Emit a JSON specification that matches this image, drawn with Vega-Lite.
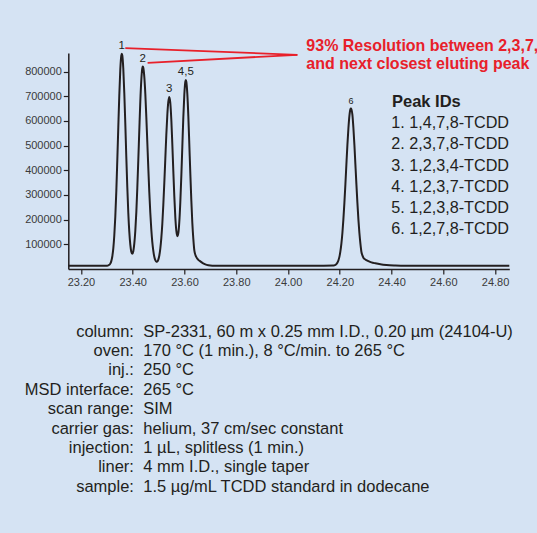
{
  "$schema": "https://vega.github.io/schema/vega-lite/v6.json",
  "background": "#d5e3f3",
  "padding": {"left": 24.3, "top": 37, "right": 5, "bottom": 33},
  "spacing": 35,
  "config": {
    "view": {"stroke": null},
    "font": "Liberation Sans",
    "axis": {
      "domainColor": "#231f20", "domainWidth": 1.5,
      "tickColor": "#231f20", "tickWidth": 1.2, "tickSize": 5,
      "labelFont": "Liberation Sans", "labelFontSize": 11, "labelColor": "#3a3a3a",
      "grid": false, "labelFlush": false, "labelOverlap": false
    }
  },
  "vconcat": [
    {
      "width": 441,
      "height": 216,
      "layer": [
        {
          "data": {"values": [
            {"t": 23.151, "v": 13000}, {"t": 23.2939, "v": 13000}, {"t": 23.3017, "v": 13200},
            {"t": 23.3055, "v": 14500}, {"t": 23.3094, "v": 16900}, {"t": 23.3133, "v": 21800},
            {"t": 23.3171, "v": 31900}, {"t": 23.321, "v": 50700}, {"t": 23.3249, "v": 83400},
            {"t": 23.3287, "v": 135500}, {"t": 23.3326, "v": 211900}, {"t": 23.3365, "v": 314500},
            {"t": 23.3403, "v": 439000}, {"t": 23.3442, "v": 574800}, {"t": 23.3481, "v": 704500},
            {"t": 23.3519, "v": 807600}, {"t": 23.3558, "v": 864300}, {"t": 23.3577, "v": 872000},
            {"t": 23.3597, "v": 865100}, {"t": 23.3635, "v": 811000}, {"t": 23.3674, "v": 712200},
            {"t": 23.3713, "v": 587700}, {"t": 23.3751, "v": 454700}, {"t": 23.379, "v": 331200},
            {"t": 23.3828, "v": 228000}, {"t": 23.3867, "v": 150600}, {"t": 23.3906, "v": 99000},
            {"t": 23.3944, "v": 70100}, {"t": 23.3983, "v": 61600}, {"t": 23.4022, "v": 72100},
            {"t": 23.406, "v": 102500}, {"t": 23.4099, "v": 153900}, {"t": 23.4138, "v": 229400},
            {"t": 23.4176, "v": 327300}, {"t": 23.4215, "v": 441600}, {"t": 23.4254, "v": 563400},
            {"t": 23.4292, "v": 677200}, {"t": 23.4331, "v": 765100}, {"t": 23.437, "v": 813500},
            {"t": 23.4389, "v": 820000}, {"t": 23.4408, "v": 815200}, {"t": 23.4447, "v": 778000},
            {"t": 23.4486, "v": 709400}, {"t": 23.4524, "v": 617400}, {"t": 23.4563, "v": 513300},
            {"t": 23.4602, "v": 407600}, {"t": 23.464, "v": 310800}, {"t": 23.4679, "v": 226900},
            {"t": 23.4718, "v": 159100}, {"t": 23.4756, "v": 108800}, {"t": 23.4795, "v": 73100},
            {"t": 23.4833, "v": 49600}, {"t": 23.4872, "v": 35800}, {"t": 23.4911, "v": 29600},
            {"t": 23.4949, "v": 30200}, {"t": 23.4988, "v": 37900}, {"t": 23.5027, "v": 54500},
            {"t": 23.5065, "v": 82500}, {"t": 23.5104, "v": 124800}, {"t": 23.5143, "v": 183300},
            {"t": 23.5181, "v": 259200}, {"t": 23.522, "v": 349500}, {"t": 23.5259, "v": 447300},
            {"t": 23.5297, "v": 543100}, {"t": 23.5336, "v": 623800}, {"t": 23.5375, "v": 677800},
            {"t": 23.5413, "v": 697000}, {"t": 23.5452, "v": 672500}, {"t": 23.5491, "v": 604300},
            {"t": 23.5529, "v": 506500}, {"t": 23.5568, "v": 396500}, {"t": 23.5607, "v": 293300},
            {"t": 23.5645, "v": 209700}, {"t": 23.5684, "v": 155100}, {"t": 23.5723, "v": 132800},
            {"t": 23.5761, "v": 145000}, {"t": 23.58, "v": 191700}, {"t": 23.5838, "v": 270400},
            {"t": 23.5877, "v": 375800}, {"t": 23.5916, "v": 495600}, {"t": 23.5954, "v": 612900},
            {"t": 23.5993, "v": 706500}, {"t": 23.6032, "v": 759200}, {"t": 23.6051, "v": 766000},
            {"t": 23.607, "v": 759200}, {"t": 23.6109, "v": 709500}, {"t": 23.6148, "v": 619200},
            {"t": 23.6186, "v": 505500}, {"t": 23.6225, "v": 386500}, {"t": 23.6264, "v": 277300},
            {"t": 23.6302, "v": 187400}, {"t": 23.6341, "v": 122000}, {"t": 23.638, "v": 75000},
            {"t": 23.6418, "v": 58000}, {"t": 23.6457, "v": 48000}, {"t": 23.6496, "v": 42000},
            {"t": 23.6534, "v": 37000}, {"t": 23.6612, "v": 31000}, {"t": 23.6689, "v": 25000},
            {"t": 23.6805, "v": 19000}, {"t": 23.6921, "v": 15500}, {"t": 23.7075, "v": 13500},
            {"t": 23.7307, "v": 13000}, {"t": 24.1, "v": 13000}, {"t": 24.1753, "v": 13800},
            {"t": 24.1791, "v": 14700}, {"t": 24.183, "v": 16400}, {"t": 24.1869, "v": 19600},
            {"t": 24.1907, "v": 25200}, {"t": 24.1946, "v": 34500}, {"t": 24.1985, "v": 49100},
            {"t": 24.2023, "v": 71200}, {"t": 24.2062, "v": 102800}, {"t": 24.2101, "v": 145800},
            {"t": 24.2139, "v": 200900}, {"t": 24.2178, "v": 267800}, {"t": 24.2217, "v": 343600},
            {"t": 24.2255, "v": 423200}, {"t": 24.2294, "v": 501600}, {"t": 24.2333, "v": 569100},
            {"t": 24.2371, "v": 619400}, {"t": 24.241, "v": 646800}, {"t": 24.2429, "v": 650000},
            {"t": 24.2449, "v": 647000}, {"t": 24.2487, "v": 625000}, {"t": 24.2526, "v": 572000},
            {"t": 24.2565, "v": 503000}, {"t": 24.2603, "v": 424000}, {"t": 24.2642, "v": 344000},
            {"t": 24.2681, "v": 268000}, {"t": 24.2719, "v": 201000}, {"t": 24.2758, "v": 146000},
            {"t": 24.2797, "v": 103000}, {"t": 24.2835, "v": 70000}, {"t": 24.2874, "v": 55000},
            {"t": 24.2913, "v": 46000}, {"t": 24.2951, "v": 41000}, {"t": 24.3029, "v": 36000},
            {"t": 24.3106, "v": 32000}, {"t": 24.3222, "v": 27000}, {"t": 24.3376, "v": 23000},
            {"t": 24.357, "v": 19000}, {"t": 24.3802, "v": 16000}, {"t": 24.415, "v": 14000},
            {"t": 24.4536, "v": 13000}, {"t": 24.855, "v": 13000}
          ]},
          "mark": {"type": "line", "interpolate": "monotone", "color": "#231f20", "strokeWidth": 2},
          "encoding": {
            "x": {
              "field": "t", "type": "quantitative",
              "scale": {"domain": [23.151, 24.855], "nice": false, "zero": false},
              "axis": {"title": null, "values": [23.2, 23.4, 23.6, 23.8, 24.0, 24.2, 24.4, 24.6, 24.8], "format": ".2f", "labelPadding": 3, "tickCount": 12}
            },
            "y": {
              "field": "v", "type": "quantitative",
              "scale": {"domain": [0, 875000], "nice": false},
              "axis": {"title": null, "values": [100000, 200000, 300000, 400000, 500000, 600000, 700000, 800000], "format": "d", "labelPadding": 2, "tickCount": 10}
            }
          }
        },
        {
          "data": {"values": [
            {"label": "1", "t": 23.3577, "v": 872000},
            {"label": "2", "t": 23.4389, "v": 820000},
            {"label": "3", "t": 23.5413, "v": 697000},
            {"label": "4,5", "t": 23.6051, "v": 766000},
            {"label": "6", "t": 24.2429, "v": 650000}
          ]},
          "mark": {"type": "text", "font": "Liberation Sans", "color": "#231f20", "baseline": "alphabetic", "dy": -5},
          "encoding": {
            "x": {"field": "t", "type": "quantitative"},
            "y": {"field": "v", "type": "quantitative"},
            "text": {"field": "label"},
            "size": {"condition": {"test": "datum.label === '6'", "value": 9}, "value": 11.5}
          }
        },
        {
          "data": {"values": [{}]},
          "mark": {"type": "rule", "color": "#e8202a", "strokeWidth": 1.8},
          "encoding": {
            "x": {"datum": 23.3712, "type": "quantitative"},
            "y": {"datum": 895000, "type": "quantitative"},
            "x2": {"datum": 24.0361},
            "y2": {"datum": 867800}
          }
        },
        {
          "data": {"values": [{}]},
          "mark": {"type": "rule", "color": "#e8202a", "strokeWidth": 1.8},
          "encoding": {
            "x": {"datum": 23.4574, "type": "quantitative"},
            "y": {"datum": 835300, "type": "quantitative"},
            "x2": {"datum": 24.0361},
            "y2": {"datum": 867800}
          }
        },
        {
          "data": {"values": [{}]},
          "mark": {"type": "text", "align": "left", "baseline": "middle", "font": "Liberation Sans", "fontWeight": "bold", "fontSize": 16, "color": "#e8202a", "lineHeight": 18.3},
          "encoding": {
            "x": {"datum": 24.0709, "type": "quantitative"},
            "y": {"datum": 904300, "type": "quantitative"},
            "text": {"value": ["93% Resolution between 2,3,7,", "and next closest eluting peak"]}
          }
        },
        {
          "data": {"values": [
            {"id": "1. 1,4,7,8-TCDD"},
            {"id": "2. 2,3,7,8-TCDD"},
            {"id": "3. 1,2,3,4-TCDD"},
            {"id": "4. 1,2,3,7-TCDD"},
            {"id": "5. 1,2,3,8-TCDD"},
            {"id": "6. 1,2,7,8-TCDD"}
          ]},
          "mark": {"type": "point", "opacity": 0},
          "encoding": {
            "color": {
              "field": "id", "type": "nominal", "sort": null,
              "scale": {"range": ["#231f20", "#231f20", "#231f20", "#231f20", "#231f20", "#231f20"]},
              "legend": {
                "title": "Peak IDs", "orient": "none", "legendX": 323.7, "legendY": 41,
                "symbolSize": 0, "symbolOpacity": 0, "symbolStrokeWidth": 0, "labelOffset": -17,
                "labelFont": "Liberation Sans", "labelFontSize": 16.2, "labelColor": "#231f20", "labelLimit": 300,
                "titleFont": "Liberation Sans", "titleFontSize": 16.5, "titleFontWeight": "bold", "titleColor": "#231f20",
                "titlePadding": 4.5, "rowPadding": 4.2, "padding": 0
              }
            }
          }
        }
      ]
    },
    {
      "width": 140,
      "height": 174.5,
      "data": {"values": [
        {"label": "column:", "value": "SP-2331, 60 m x 0.25 mm I.D., 0.20 µm (24104-U)"},
        {"label": "oven:", "value": "170 °C (1 min.), 8 °C/min. to 265 °C"},
        {"label": "inj.:", "value": "250 °C"},
        {"label": "MSD interface:", "value": "265 °C"},
        {"label": "scan range:", "value": "SIM"},
        {"label": "carrier gas:", "value": "helium, 37 cm/sec constant"},
        {"label": "injection:", "value": "1 µL, splitless (1 min.)"},
        {"label": "liner:", "value": "4 mm I.D., single taper"},
        {"label": "sample:", "value": "1.5 µg/mL TCDD standard in dodecane"}
      ]},
      "encoding": {
        "y": {"field": "label", "type": "nominal", "sort": null, "scale": {"type": "point", "padding": 0.5}, "axis": null}
      },
      "layer": [
        {
          "mark": {"type": "text", "align": "right", "baseline": "alphabetic", "dx": -4.4, "font": "Liberation Sans", "fontSize": 16.5, "color": "#231f20"},
          "encoding": {"text": {"field": "label"}}
        },
        {
          "mark": {"type": "text", "align": "left", "baseline": "alphabetic", "dx": 5, "font": "Liberation Sans", "fontSize": 16.5, "color": "#231f20"},
          "encoding": {"text": {"field": "value"}}
        }
      ]
    }
  ]
}
